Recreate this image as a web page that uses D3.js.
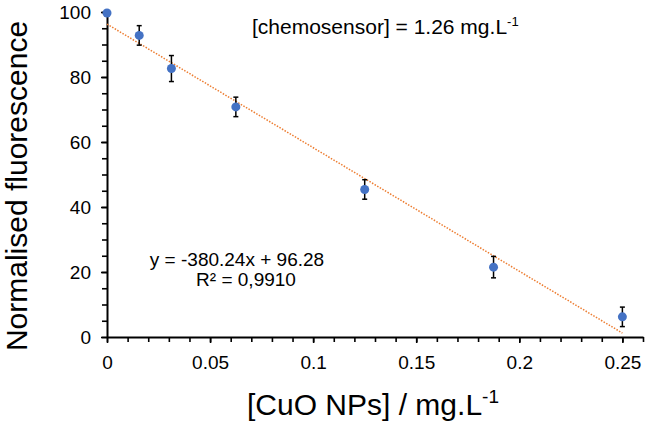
<!DOCTYPE html>
<html>
<head>
<meta charset="utf-8">
<script src="https://cdn.jsdelivr.net/npm/d3@7"></script>
<style>
  body { margin: 0; background: #fff; }
  svg { font-family: "Liberation Sans", Arial, sans-serif; }
</style>
</head>
<body>
<svg id="chart" width="645" height="426"></svg>
<script>
// data
var concentrations = [0, 0.015625, 0.03125, 0.0625, 0.125, 0.1875, 0.25];
var fluorescence = [99.7, 92.8, 82.6, 70.8, 45.4, 21.5, 6.2];
var errors = [0, 3.0, 4.0, 3.0, 3.0, 3.3, 3.0];
var xTickValues = [0, 0.05, 0.1, 0.15, 0.2, 0.25];
var yTickValues = [0, 20, 40, 60, 80, 100];
var fitSlope = -380.24, fitIntercept = 96.28;

var svg = d3.select("#chart");

var x = d3.scaleLinear().domain([0, 0.26]).range([107, 643]);
var y = d3.scaleLinear().domain([0, 100]).range([337, 12]);

// minor ticks
var xMinor = d3.range(0, 0.2601, 0.01);
var yMinor = d3.range(0, 100.1, 5);

svg.append("g")
    .attr("transform", "translate(0,337)")
    .call(d3.axisBottom(x).tickValues(xMinor).tickSize(5).tickFormat(""))
    .call(function (g) { g.select(".domain").remove(); })
    .selectAll("line").attr("stroke", "#000").attr("stroke-width", 1.6);

svg.append("g")
    .attr("transform", "translate(107,0)")
    .call(d3.axisLeft(y).tickValues(yMinor).tickSize(5).tickFormat(""))
    .call(function (g) { g.select(".domain").remove(); })
    .selectAll("line").attr("stroke", "#000").attr("stroke-width", 1.6);

// major ticks + labels
var xAxis = svg.append("g")
    .attr("transform", "translate(0,337)")
    .call(d3.axisBottom(x).tickValues(xTickValues).tickSize(6).tickSizeOuter(0)
        .tickFormat(function (d) { return String(d); }));
xAxis.select(".domain").attr("stroke", "#000").attr("stroke-width", 2);
xAxis.selectAll("line").attr("stroke", "#000").attr("stroke-width", 1.6);
xAxis.selectAll("text")
    .attr("font-size", 19).attr("font-family", "Liberation Sans, Arial, sans-serif")
    .attr("fill", "#000").attr("y", 0).attr("dy", 32);

var yAxis = svg.append("g")
    .attr("transform", "translate(107,0)")
    .call(d3.axisLeft(y).tickValues(yTickValues).tickSize(6).tickSizeOuter(0));
yAxis.select(".domain").attr("stroke", "#000").attr("stroke-width", 2);
yAxis.selectAll("line").attr("stroke", "#000").attr("stroke-width", 1.6);
yAxis.selectAll("text")
    .attr("font-size", 19).attr("font-family", "Liberation Sans, Arial, sans-serif")
    .attr("fill", "#000").attr("x", -16).attr("dy", "0.35em");

// trendline
svg.append("line")
    .attr("x1", x(0)).attr("y1", y(fitIntercept))
    .attr("x2", x(0.25)).attr("y2", y(fitSlope * 0.25 + fitIntercept))
    .attr("stroke", "#ED7D31")
    .attr("stroke-width", 1.5)
    .attr("stroke-dasharray", "1.5,1.5");

// error bars
var pts = concentrations.map(function (c, i) {
    return { x: c, y: fluorescence[i], e: errors[i] };
});
var bars = svg.append("g").selectAll("g")
    .data(pts.filter(function (d) { return d.e > 0; }))
    .enter().append("g")
    .attr("stroke", "#000").attr("stroke-width", 1.5);
bars.append("line")
    .attr("x1", function (d) { return x(d.x); }).attr("x2", function (d) { return x(d.x); })
    .attr("y1", function (d) { return y(d.y - d.e); }).attr("y2", function (d) { return y(d.y + d.e); });
bars.append("line")
    .attr("x1", function (d) { return x(d.x) - 2.5; }).attr("x2", function (d) { return x(d.x) + 2.5; })
    .attr("y1", function (d) { return y(d.y + d.e); }).attr("y2", function (d) { return y(d.y + d.e); });
bars.append("line")
    .attr("x1", function (d) { return x(d.x) - 2.5; }).attr("x2", function (d) { return x(d.x) + 2.5; })
    .attr("y1", function (d) { return y(d.y - d.e); }).attr("y2", function (d) { return y(d.y - d.e); });

// points
svg.append("g").selectAll("circle")
    .data(pts)
    .enter().append("circle")
    .attr("cx", function (d) { return x(d.x); })
    .attr("cy", function (d) { return y(d.y); })
    .attr("r", 4.5)
    .attr("fill", "#4472C4");

// annotations
var note = svg.append("text")
    .attr("x", 252).attr("y", 34)
    .attr("font-size", 21).attr("fill", "#000");
note.append("tspan").text("[chemosensor] = 1.26 mg.L");
note.append("tspan").attr("font-size", 13).attr("dy", -8).text("-1");

svg.append("text")
    .attr("x", 237).attr("y", 266)
    .attr("text-anchor", "middle").attr("font-size", 19)
    .text("y = -380.24x + 96.28");
svg.append("text")
    .attr("x", 246).attr("y", 286)
    .attr("text-anchor", "middle").attr("font-size", 19)
    .text("R² = 0,9910");

// axis titles
var xt = svg.append("text")
    .attr("x", 373).attr("y", 415)
    .attr("text-anchor", "middle").attr("font-size", 30).attr("fill", "#000");
xt.append("tspan").text("[CuO NPs] / mg.L");
xt.append("tspan").attr("font-size", 19).attr("dy", -12).text("-1");

svg.append("text")
    .attr("transform", "translate(27,186) rotate(-90)")
    .attr("text-anchor", "middle").attr("font-size", 30).attr("fill", "#000")
    .text("Normalised fluorescence");
</script>
</body>
</html>
